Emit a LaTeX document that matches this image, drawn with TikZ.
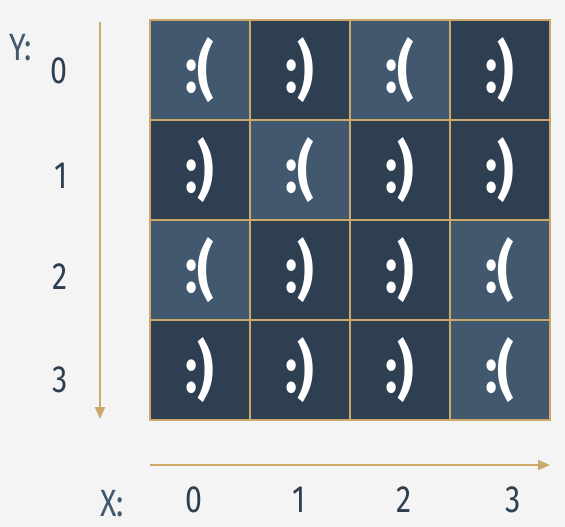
\documentclass[tikz,border=0pt]{standalone}
\usepackage{fontspec}
\setmainfont[FakeStretch=0.8]{Fira Sans}
\usetikzlibrary{arrows.meta}
\definecolor{bg}{HTML}{F4F4F4}
\definecolor{darkcell}{HTML}{2E3F51}
\definecolor{lightcell}{HTML}{41586E}
\definecolor{gold}{HTML}{CCA86A}
\definecolor{numc}{HTML}{2E3F51}
\definecolor{lblc}{HTML}{41586E}
\tikzset{
  cell/.style={draw=gold, line width=2pt, minimum size=100pt, inner sep=0pt, text=white, font=\bfseries\fontsize{64}{64}\selectfont},
  sad/.style={cell, fill=lightcell},
  happy/.style={cell, fill=darkcell},
  num/.style={text=numc, font=\fontsize{38}{38}\selectfont, inner sep=0pt},
  lbl/.style={text=lblc, font=\fontsize{38}{38}\selectfont, inner sep=0pt},
  axis/.style={draw=gold, line width=2pt, -{Triangle[length=12pt,width=10pt]}}
}
\begin{document}
\begin{tikzpicture}[x=1pt,y=-1pt]
\fill[bg] (0,0) rectangle (565,527);
\useasboundingbox (0,0) rectangle (565,527);
% cells
\node[sad]   (c00) at (200,70) {:(};
\node[happy] (c01) at (300,70) {:)};
\node[sad]   (c02) at (400,70) {:(};
\node[happy] (c03) at (500,70) {:)};
\node[happy] (c10) at (200,170) {:)};
\node[sad]   (c11) at (300,170) {:(};
\node[happy] (c12) at (400,170) {:)};
\node[happy] (c13) at (500,170) {:)};
\node[sad]   (c20) at (200,270) {:(};
\node[happy] (c21) at (300,270) {:)};
\node[happy] (c22) at (400,270) {:)};
\node[sad]   (c23) at (500,270) {:(};
\node[happy] (c30) at (200,370) {:)};
\node[happy] (c31) at (300,370) {:)};
\node[happy] (c32) at (400,370) {:)};
\node[sad]   (c33) at (500,370) {:(};
% axes
\coordinate (ys) at (100,22);
\coordinate (ye) at (100,419);
\coordinate (xs) at (150,465);
\coordinate (xe) at (550,465);
\draw[axis] (ys) -- (ye);
\draw[axis] (xs) -- (xe);
% labels
\node[lbl] (ylab) at (21,48) {Y:};
\node[lbl] (xlab) at (112,504) {X:};
\node[num] (y0) at (59,71) {0};
\node[num] (y1) at (61,176) {1};
\node[num] (y2) at (60,277) {2};
\node[num] (y3) at (60,380) {3};
\node[num] (x0) at (194,500) {0};
\node[num] (x1) at (299,500) {1};
\node[num] (x2) at (404,500) {2};
\node[num] (x3) at (513,500) {3};
\end{tikzpicture}
\end{document}
